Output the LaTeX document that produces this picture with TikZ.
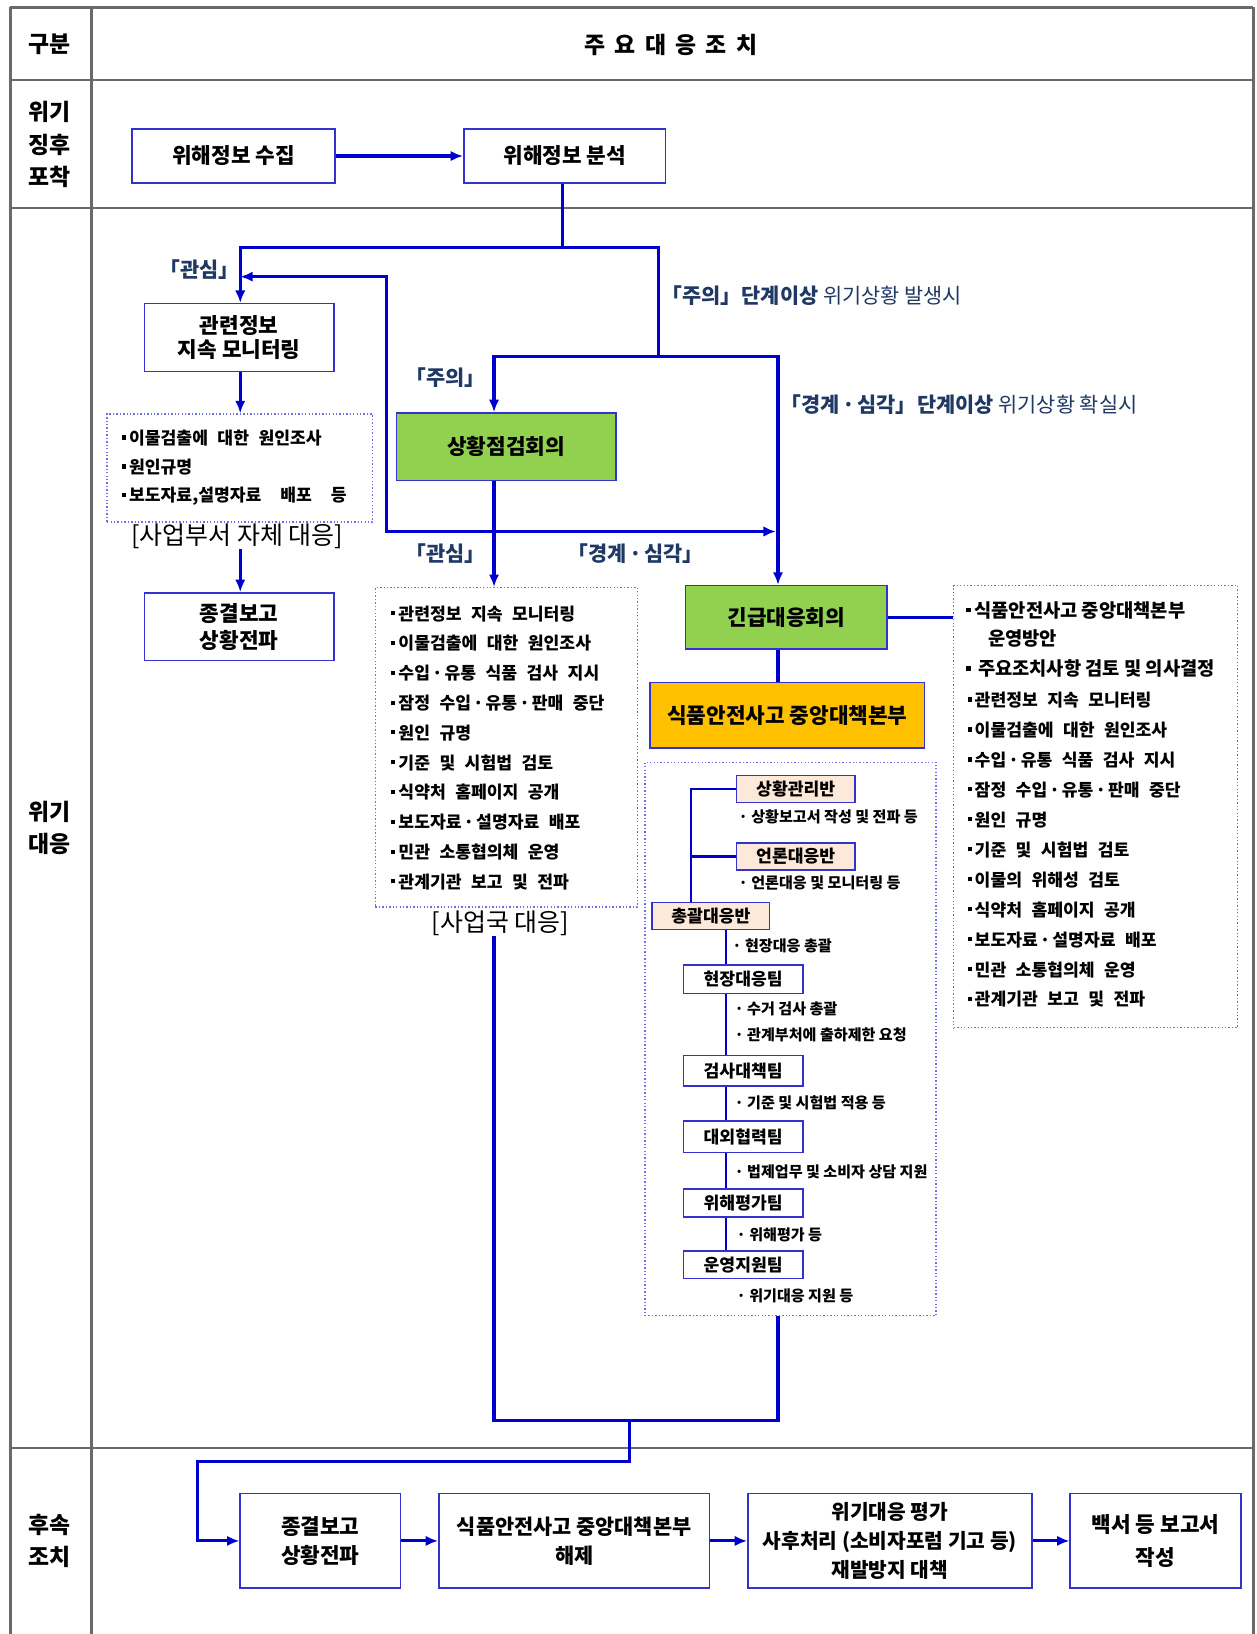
\documentclass[tikz,border=0pt]{standalone}
\usepackage{fontspec}
\setmainfont{Noto Sans CJK KR}[BoldFont={Noto Sans CJK KR Black}]
\usetikzlibrary{arrows.meta}
\definecolor{connc}{RGB}{0,0,204}
\definecolor{bxblue}{RGB}{51,51,204}
\definecolor{dotblue}{RGB}{110,110,230}
\definecolor{lblc}{RGB}{31,56,100}
\definecolor{grn}{RGB}{146,208,80}
\definecolor{org}{RGB}{255,192,0}
\definecolor{peach}{RGB}{253,233,217}
\definecolor{gridc}{RGB}{105,105,105}
\newcommand\fs[2]{\fontsize{#1}{#2}\selectfont}
\newcommand\sqb{\raisebox{0.28em}{\rule{0.24em}{0.24em}}\hspace{0.18em}}
\newcommand\widesp{\spaceskip=0.55em\relax}
\newcommand\vwidesp{\spaceskip=1.1em\relax}
\newcommand\mdot{\hspace{0.12em}·\hspace{0.12em}}
\newcommand\krq[1]{\kern-0.42em「#1」\kern-0.42em}
\begin{document}
\begin{tikzpicture}[x=1pt,y=-1pt,
 conn/.style={draw=connc, line width=3pt},
 arr/.style={conn, -{Latex[length=12pt,width=10pt]}},
 bx/.style={draw=bxblue, line width=1.5pt, fill=white, inner sep=0pt, align=center, font=\fs{20.5}{24}\bfseries},
 dbx/.style={draw=dotblue, dotted, line width=1.3pt, inner sep=0pt},
 lab/.style={text=lblc, font=\fs{20}{22}\bfseries, inner sep=0pt},
 item/.style={anchor=west, inner sep=0pt, font=\fs{16.5}{18}\bfseries\widesp},
 subi/.style={anchor=west, inner sep=0pt, font=\fs{14.5}{16}\bfseries},
 team/.style={draw=bxblue, line width=1.5pt, inner sep=0pt, minimum height=26pt, font=\fs{16.5}{18}\bfseries},
 tree/.style={draw=connc, line width=2pt},
 gridl/.style={draw=gridc, line width=2.5pt},
 head/.style={inner sep=0pt, align=center, font=\fs{22}{31}\bfseries},
 resp/.style={inner sep=0pt, font=\fs{24}{26}}]
\useasboundingbox (0,0) rectangle (1208,1571);
\fill[white] (0,0) rectangle (1208,1571);
% table grid
\draw[gridl] (10,7) -- (1205,7);
\draw[gridl] (10,77) -- (1205,77);
\draw[gridl] (10,200) -- (1205,200);
\draw[gridl] (10,1392) -- (1205,1392);
\draw[gridl] (10,7) -- (10,1571);
\draw[gridl] (88,7) -- (88,1571);
\draw[gridl] (1205,7) -- (1205,1571);
% headers
\node[head] (h1) at (48,43) {구분};
\node[head] (h2) at (645,43) {주\hspace{9pt}요\hspace{9pt}대\hspace{9pt}응\hspace{9pt}조\hspace{9pt}치};
\node[head] (h3) at (48,139) {위기\\징후\\포착};
\node[head] (h4) at (48,796) {위기\\대응};
\node[head] (h5) at (48,1481.5) {후속\\조치};
% helper coordinates
\coordinate (xs) at (475,0);
\coordinate (xe) at (748,0);
\coordinate (j1) at (541,238);
\coordinate (j2) at (633,343);
\coordinate (fa) at (231,266);
\coordinate (f2) at (372,511);
\coordinate (fb) at (746,511);
\coordinate (ub) at (605,1366);
\coordinate (uc) at (190,1405);
\coordinate (tx) at (664,0);
\coordinate (ty) at (698,0);
% row 1 boxes
\node[bx, minimum width=195pt, minimum height=52pt] (n1) at (224.5,150) {위해정보 수집};
\node[bx, minimum width=194pt, minimum height=52pt] (n2) at (543,150) {위해정보 분석};
% crisis response boxes
\node[bx, minimum width=182pt, minimum height=65pt, font=\fs{20.5}{23}\bfseries] (gwan) at (230,324.5) {관련정보\\지속 모니터링};
\node[bx, minimum width=182pt, minimum height=65pt, font=\fs{20.5}{26}\bfseries] (jong1) at (230,602.5) {종결보고\\상황전파};
\node[bx, fill=grn, minimum width=211pt, minimum height=65pt] (sit) at (486.5,429.5) {상황점검회의};
\node[bx, fill=grn, minimum width=194pt, minimum height=61pt] (emerg) at (756,593.5) {긴급대응회의};
\node[bx, fill=org, minimum width=264pt, minimum height=63pt, font=\fs{20.5}{24}\bfseries] (hq) at (757,687.5) {식품안전사고 중앙대책본부};
% dotted boxes
\node[dbx, minimum width=255pt, minimum height=104pt] (d1) at (230.5,450) {};
\node[dbx, minimum width=252pt, minimum height=307pt] (d2) at (487,718.5) {};
\node[dbx, minimum width=280pt, minimum height=532pt] (d3) at (760,999) {};
\node[dbx, minimum width=273pt, minimum height=425pt] (d4) at (1053.5,775.5) {};
% d1 items
\node[item] (d1a) at (117,421) {\sqb 이물검출에 대한 원인조사};
\node[item] (d1b) at (117,449) {\sqb 원인규명};
\node[item] (d1c) at (117,477) {\vwidesp\sqb 보도자료,설명자료 배포 등};
\node[resp] (lab1) at (228,516) {[사업부서 자체 대응]};
% d2 items
\foreach \t [count=\i] in {관련정보 지속 모니터링, 이물검출에 대한 원인조사, 수입\mdot 유통 식품 검사 지시, 잠정 수입\mdot 유통\mdot 판매 중단, 원인 규명, 기준 및 시험법 검토, 식약처 홈페이지 공개, 보도자료\mdot 설명자료 배포, 민관 소통협의체 운영, 관계기관 보고 및 전파}
  \node[item] (d2i\i) at (376,{590+28.65*(\i-1)}) {\sqb \t};
\node[resp] (lab2) at (481,888) {[사업국 대응]};
% d4 items
\node[item, font=\fs{18}{18}\bfseries] (d4a) at (929,587) {\sqb 식품안전사고 중앙대책본부};
\node[item, font=\fs{18}{18}\bfseries] (d4b) at (950,614) {운영방안};
\node[item, font=\fs{18}{18}\bfseries] (d4c) at (929,643) {\sqb\hspace{0.2em}주요조치사항 검토 및 의사결정};
\foreach \t [count=\i] in {관련정보 지속 모니터링, 이물검출에 대한 원인조사, 수입\mdot 유통 식품 검사 지시, 잠정 수입\mdot 유통\mdot 판매 중단, 원인 규명, 기준 및 시험법 검토, 이물의 위해성 검토, 식약처 홈페이지 공개, 보도자료\mdot 설명자료 배포, 민관 소통협의체 운영, 관계기관 보고 및 전파}
  \node[item] (d4i\i) at (930,{673+28.8*(\i-1)}) {\sqb \t};
% tree in d3
\node[team, fill=peach, minimum width=114pt] (sg) at (765,758.5) {상황관리반};
\node[team, fill=peach, minimum width=114pt] (eon) at (765,823.5) {언론대응반};
\node[team, fill=peach, minimum width=113pt] (chong) at (683.5,880.5) {총괄대응반};
\node[team, fill=white, minimum width=115pt, minimum height=27pt] (t1) at (714.5,941.5) {현장대응팀};
\node[team, fill=white, minimum width=115pt, minimum height=29pt] (t2) at (714.5,1029.5) {검사대책팀};
\node[team, fill=white, minimum width=115pt, minimum height=30pt] (t3) at (714.5,1093) {대외협력팀};
\node[team, fill=white, minimum width=115pt, minimum height=27pt] (t4) at (714.5,1156.5) {위해평가팀};
\node[team, fill=white, minimum width=115pt, minimum height=26pt] (t5) at (714.5,1216) {운영지원팀};
\node[subi] (s1) at (710,785) {· 상황보고서 작성 및 전파 등};
\node[subi] (s2) at (710,849) {· 언론대응 및 모니터링 등};
\node[subi] (s3) at (704,909) {· 현장대응 총괄};
\node[subi] (s4) at (706,970) {· 수거 검사 총괄};
\node[subi] (s5) at (706,995) {· 관계부처에 출하제한 요청};
\node[subi] (s6) at (706,1060) {· 기준 및 시험법 적용 등};
\node[subi] (s7) at (706,1127) {· 법제업무 및 소비자 상담 지원};
\node[subi] (s8) at (708,1187) {· 위해평가 등};
\node[subi] (s9) at (708,1246) {· 위기대응 지원 등};
\draw[tree] (sg.west) -| (chong.north -| tx);
\draw[tree] (eon.west) -- (eon.west -| tx);
\draw[tree] (chong.south -| ty) -- (t1.north -| ty);
\draw[tree] (t1.south -| ty) -- (t2.north -| ty);
\draw[tree] (t2.south -| ty) -- (t3.north -| ty);
\draw[tree] (t3.south -| ty) -- (t4.north -| ty);
\draw[tree] (t4.south -| ty) -- (t5.north -| ty);
% bottom boxes
\node[bx, minimum width=154pt, minimum height=91pt, font=\fs{20.5}{28}\bfseries] (b1) at (308,1481.5) {종결보고\\상황전파};
\node[bx, minimum width=260pt, minimum height=91pt, font=\fs{20}{28}\bfseries] (b2) at (552,1481.5) {식품안전사고 중앙대책본부\\해제};
\node[bx, minimum width=273pt, minimum height=91pt, font=\fs{19.5}{28}\bfseries] (b3) at (855.5,1481.5) {위기대응 평가\\사후처리 (소비자포럼 기고 등)\\재발방지 대책};
\node[bx, minimum width=164pt, minimum height=91pt, font=\fs{20.5}{32}\bfseries] (b4) at (1111,1481.5) {백서 등 보고서\\작성};
% labels
\node[lab] (l1) at (192,259) {\krq{관심}};
\node[lab, anchor=west] (l2) at (644,284) {\krq{주의}\hspace{0.45em}단계이상 \mdseries 위기상황 발생시};
\node[lab] (l3) at (428,363) {\krq{주의}};
\node[lab, anchor=west] (l4) at (759,389) {\krq{경계\mdot 심각}\hspace{0.45em}단계이상 \mdseries 위기상황 확실시};
\node[lab] (l5) at (428,532) {\krq{관심}};
\node[lab] (l6) at (611,532) {\krq{경계\mdot 심각}};
% connectors
\draw[arr] (n1) -- (n2);
\draw[conn] (n2.south -| j1) -- (j1);
\draw[arr] (j1) -| (gwan.north -| fa);
\draw[conn] (j1) -| (j2);
\draw[arr] (j2) -| (sit.north -| xs);
\draw[arr] (j2) -| (emerg.north -| xe);
\draw[arr] (gwan.south -| fa) -- (d1.north -| fa);
\draw[arr] (lab1.south -| fa) -- (jong1.north -| fa);
\draw[conn, {Latex[length=12pt,width=10pt]}-{Latex[length=12pt,width=10pt]}] (fa) -| (f2) -- (fb);
\draw[arr] (sit.south -| xs) -- (d2.north -| xs);
\draw[conn] (emerg.east) -- (d4.west |- emerg.east);
\draw[conn] (emerg.south -| xe) -- (hq.north -| xe);
\draw[conn] (lab2.south -| xs) |- (ub) -| (d3.south -| xe);
\draw[arr] (ub) |- (uc) |- (b1.west);
\draw[arr] (b1) -- (b2);
\draw[arr] (b2) -- (b3);
\draw[arr] (b3) -- (b4);
\end{tikzpicture}
\end{document}
